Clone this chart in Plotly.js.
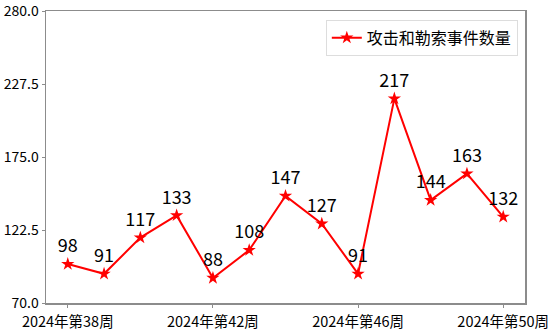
<!DOCTYPE html>
<html><head><meta charset="utf-8">
<script src="https://cdn.plot.ly/plotly-3.0.1.min.js"></script>
<style>html,body{margin:0;padding:0;background:#fff;}</style>
</head><body><div id="chart" style="width:552px;height:331px;"></div>
<script>
const weeks = ["2024年第38周","2024年第39周","2024年第40周","2024年第41周","2024年第42周","2024年第43周","2024年第44周","2024年第45周","2024年第46周","2024年第47周","2024年第48周","2024年第49周","2024年第50周"];
const counts = [98, 91, 117, 133, 88, 108, 147, 127, 91, 217, 144, 163, 132];
const tickWeeks = ["2024年第38周","2024年第42周","2024年第46周","2024年第50周"];
const yTicks = [70.0, 122.5, 175.0, 227.5, 280.0];
const seriesName = "攻击和勒索事件数量";

const font = "'Noto Sans CJK SC', sans-serif";
const idx = weeks.map((w,i)=>i);
const trace = {
  x: idx, y: counts, name: seriesName,
  mode: "lines+markers+text",
  text: counts.map(String), textposition: "top center",
  textfont: {family: font, size: 18, color: "#000"},
  line: {color: "#ff0000", width: 2},
  marker: {symbol: "star", size: 10, color: "#ff0000"},
  cliponaxis: false
};
const layout = {
  width: 552, height: 331,
  margin: {l: 46, r: 27, t: 11, b: 28},
  paper_bgcolor: "#fff", plot_bgcolor: "#fff",
  font: {family: font, size: 15, color: "#000"},
  xaxis: {
    range: [-0.6, 12.6], tickmode: "array",
    tickvals: tickWeeks.map(t => weeks.indexOf(t)), ticktext: tickWeeks,
    showgrid: false, zeroline: false, showline: true, mirror: true,
    linecolor: "#8c8c8c", linewidth: 1.5, ticks: "outside", ticklen: 3, tickcolor: "#8c8c8c",
    tickfont: {family: font, size: 14.5, color: "#000"}, ticklabeloverflow: "allow",
    ticklabelstandoff: 2
  },
  yaxis: {
    range: [70, 280], tickmode: "array", tickvals: yTicks,
    ticktext: yTicks.map(v => v.toFixed(1)),
    showgrid: false, zeroline: false, showline: true, mirror: true,
    linecolor: "#8c8c8c", linewidth: 1.5, ticks: "outside", ticklen: 3, tickcolor: "#8c8c8c",
    tickfont: {family: font, size: 14, color: "#000"}, ticklabeloverflow: "allow"
  },
  showlegend: true,
  legend: {x: 0.985, y: 0.97, xanchor: "right", yanchor: "top",
    bgcolor: "rgba(255,255,255,0.8)", bordercolor: "#dddddd", borderwidth: 1,
    font: {family: font, size: 16, color: "#000"}}
};
Plotly.newPlot("chart", [trace], layout, {displayModeBar: false, staticPlot: true});
</script></body></html>
